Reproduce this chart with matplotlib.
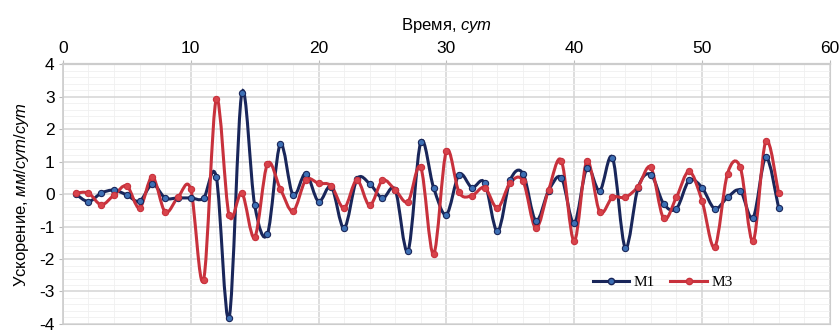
import numpy as np
import matplotlib.pyplot as plt
from matplotlib.path import Path
from matplotlib.patches import PathPatch
from matplotlib.lines import Line2D

plt.rcParams['font.family'] = ['Liberation Sans', 'DejaVu Sans']
plt.rcParams['mathtext.fontset'] = 'custom'
plt.rcParams['mathtext.rm'] = 'Liberation Sans'
plt.rcParams['mathtext.it'] = 'Liberation Sans:italic'
plt.rcParams['axes.unicode_minus'] = False

# days and acceleration values
days = list(range(1, 57))
m1 = [0.0, -0.23, 0.03, 0.12, -0.03, -0.22, 0.3, -0.12, -0.12, -0.12,
      -0.13, 0.52, -3.82, 3.12, -0.33, -1.23, 1.53, -0.03, 0.63, -0.23,
      0.23, -1.05, 0.45, 0.32, -0.13, 0.13, -1.75, 1.6, 0.2, -0.63,
      0.6, 0.2, 0.35, -1.15, 0.43, 0.63, -0.82, 0.1, 0.5, -0.9,
      0.8, 0.1, 1.12, -1.65, 0.2, 0.6, -0.3, -0.45, 0.42, 0.2,
      -0.45, -0.1, 0.1, -0.73, 1.13, -0.43]
m3 = [0.03, 0.03, -0.33, -0.03, 0.25, -0.43, 0.53, -0.55, -0.1, 0.15,
      -2.65, 2.92, -0.65, 0.03, -1.33, 0.93, 0.17, -0.53, 0.43, 0.33,
      0.25, -0.43, 0.43, -0.35, 0.42, 0.13, -0.23, 0.82, -1.85, 1.32,
      0.05, -0.05, 0.2, -0.43, 0.35, 0.4, -1.05, 0.13, 1.03, -1.45,
      1.02, -0.55, -0.1, -0.1, 0.23, 0.82, -0.75, -0.1, 0.7, -0.2,
      -1.63, 0.63, 0.82, -1.45, 1.63, 0.02]


def smooth_path(x, y):
    # excel-like smoothed line: cubic bezier segments through every point
    p = np.column_stack([x, y]).astype(float)
    n = len(p)
    verts = [p[0]]
    codes = [Path.MOVETO]
    for i in range(n - 1):
        p0 = p[i - 1] if i > 0 else p[i]
        p3 = p[i + 2] if i + 2 < n else p[i + 1]
        c1 = p[i] + (p[i + 1] - p0) / 6
        c2 = p[i + 1] - (p3 - p[i]) / 6
        verts += [c1, c2, p[i + 1]]
        codes += [Path.CURVE4] * 3
    return Path(verts, codes)


fig = plt.figure(figsize=(8.39, 3.34), dpi=100)
ax = fig.add_axes([0.075, 0.03, 0.914, 0.778])

series = [('M1', m1, '#19265a', '#3d6fb4'),
          ('M3', m3, '#c8313c', '#d8434b')]
handles = []
for name, vals, col, mfc in series:
    ax.add_patch(PathPatch(smooth_path(days, vals), fc='none', ec=col, lw=2.2, zorder=3))
    ax.plot(days, vals, 'o', ms=4.5, mfc=mfc, mec=col, mew=0.8, zorder=4)
    handles.append(Line2D([], [], color=col, lw=2.2, marker='o', ms=4.5, mfc=mfc, mec=col))

ax.set_xlim(0, 60)
ax.set_ylim(-4, 4)
ax.set_xticks(range(0, 61, 10))
ax.set_yticks(range(-4, 5))
ax.set_xticks(np.arange(0, 61, 2), minor=True)
ax.set_yticks(np.arange(-4, 4.01, 0.2), minor=True)
ax.xaxis.tick_top()
ax.xaxis.set_label_position('top')
ax.tick_params(which='major', length=3, color='#bbbbbb', labelsize=12.5, pad=3)
ax.tick_params(which='minor', length=0)
ax.grid(which='major', color='#d4d4d4', lw=1.1)
ax.grid(which='minor', color='#f0f0f0', lw=0.6)
ax.set_axisbelow(True)
for s in ax.spines.values():
    s.set_color('#cccccc')
ax.spines['top'].set_linewidth(1.6)
ax.spines['left'].set_linewidth(1.2)

ax.set_xlabel(r'Время, $\mathit{сут}$', fontsize=12, labelpad=8)
ax.set_ylabel(r'Ускорение, $\mathit{мм/сут/сут}$', fontsize=12, labelpad=6)

fig.legend(handles, ['M1', 'M3'], loc='center', bbox_to_anchor=(0.79, 0.155),
           ncol=2, frameon=False, handlelength=2.4, columnspacing=1.0, handletextpad=0.3,
           prop={'family': 'Liberation Serif', 'size': 11})

fig.savefig('out.png', dpi=100)
